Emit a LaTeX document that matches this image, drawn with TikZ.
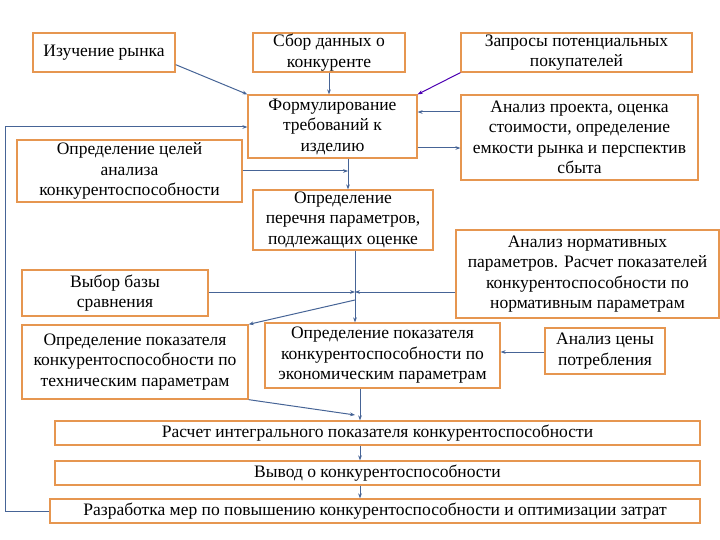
\documentclass[tikz,border=0pt]{standalone}
\usepackage{fontspec}
\setmainfont{Liberation Serif}
\usetikzlibrary{arrows.meta}
\definecolor{lnc}{RGB}{70,100,150}
\definecolor{bdc}{RGB}{230,150,80}
\begin{document}
\begin{tikzpicture}[x=1pt,y=-1pt,
  bx/.style={draw=bdc,line width=1.3pt,fill=white,align=center,font=\rmfamily\fontsize{17.5}{20.5}\selectfont,inner sep=0pt},
  ln/.style={draw=lnc,line width=1pt,-{Stealth[length=5pt]}}]
\useasboundingbox (0,0) rectangle (720,540);
\newcommand\bxat[6]{\node[bx,minimum width=#4-#2,minimum height=#5-#3] (#1) at ({(#2+#4)/2},{(#3+#5)/2}) {#6};}
\bxat{ryn}{33}{33}{175}{72}{Изучение рынка}
\bxat{sbor}{253}{33}{405}{72}{Сбор данных о\\конкуренте}
\bxat{zap}{461}{33}{692}{72}{Запросы потенциальных\\покупателей}
\bxat{form}{248}{95}{417}{158}{Формулирование\\требований к\\изделию}
\bxat{proj}{461}{95}{698}{180}{Анализ проекта, оценка\\стоимости, определение\\емкости рынка и перспектив\\сбыта}
\bxat{celi}{17}{140}{242}{202}{Определение целей\\анализа\\конкурентоспособности}
\bxat{per}{253}{190}{433}{250}{Определение\\перечня параметров,\\подлежащих оценке}
\bxat{norm}{456}{230}{719}{318}{Анализ нормативных\\параметров. Расчет показателей\\конкурентоспособности по\\нормативным параметрам}
\bxat{baza}{22}{270}{208}{316}{Выбор базы\\сравнения}
\bxat{tech}{22}{325}{248}{399}{Определение показателя\\конкурентоспособности по\\техническим параметрам}
\bxat{econ}{265}{323}{500}{388}{Определение показателя\\конкурентоспособности по\\экономическим параметрам}
\bxat{cena}{545}{328}{665}{374}{Анализ цены\\потребления}
\bxat{integ}{55}{421}{700}{445}{Расчет интегрального показателя конкурентоспособности}
\bxat{vyv}{55}{461}{700}{485}{Вывод о конкурентоспособности}
\bxat{razr}{50}{499}{700}{523}{Разработка мер по повышению конкурентоспособности и оптимизации затрат}
\coordinate (j1) at (348,171);
\coordinate (j2) at (355,292);
\coordinate (j3) at (355,300);
\coordinate (j4) at (355,415);
\coordinate (l1) at (5,511);
\coordinate (l2) at (5,127);
\draw[ln] (ryn.south east) ++(0,-8) -- (form.north west);
\draw[ln] (sbor.south) -- (sbor.south|-form.north);
\draw[ln,draw=violet!60!blue] (zap.south west) -- (form.north east);
\draw[ln] (proj.west|-0,112) -- (form.east|-0,112);
\draw[ln] (form.east|-0,148) -- (proj.west|-0,148);
\draw[ln] (form.south-|j1) -- (per.north-|j1);
\draw[ln] (celi.east|-j1) -- (j1);
\draw[ln] (razr.west|-l1) -- (l1) -- (l2) -- (form.west|-l2);
\draw[ln] (per.south-|j2) -- (econ.north-|j2);
\draw[ln] (baza.east|-j2) -- (j2);
\draw[ln] (norm.west|-j2) -- (j2);
\draw[ln] (j3) -- (tech.north east);
\draw[ln] (cena.west|-0,352) -- (econ.east|-0,352);
\draw[ln] (tech.south east) -- (j4);
\draw[ln] (econ.south-|360,0) -- (integ.north-|360,0);
\draw[ln] (integ.south-|360,0) -- (vyv.north-|360,0);
\draw[ln] (vyv.south-|360,0) -- (razr.north-|360,0);
\end{tikzpicture}
\end{document}
